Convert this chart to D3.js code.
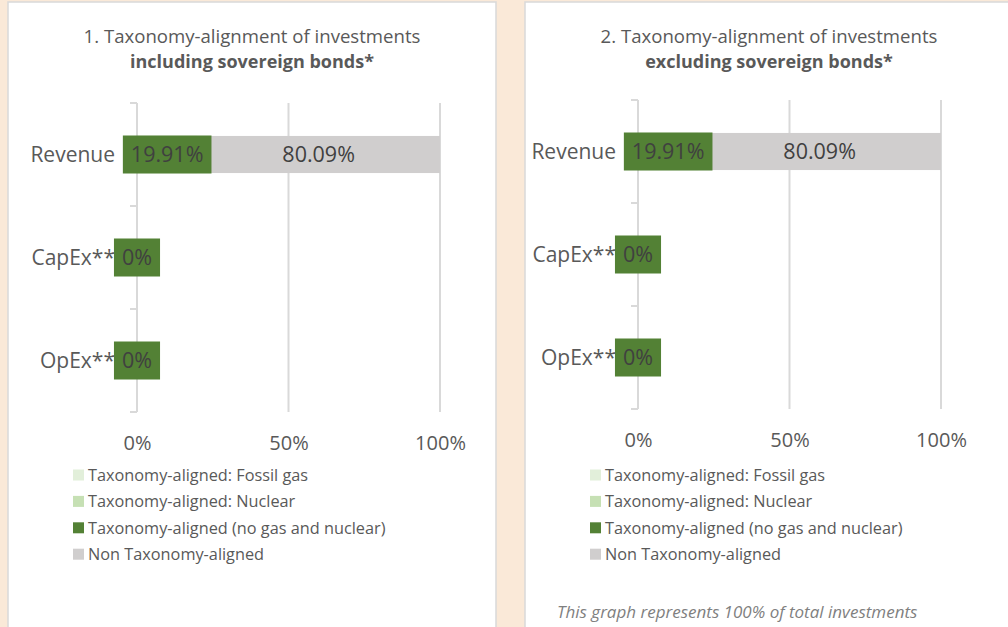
<!DOCTYPE html>
<html lang="en">
  <head>
    <meta charset="utf-8">
    <title>Taxonomy-alignment of investments</title>
    <script src="https://cdn.jsdelivr.net/npm/d3@7/dist/d3.min.js"></script>
    <style>
      body { margin: 0; background: #fae9d8; }
      text { font-family: 'Open Sans', sans-serif; }
    </style>
  </head>
  <body>
    <svg width="1008" height="627" id="mainsvg"></svg>
    <script>
      const svg = d3.select('#mainsvg');

      // data
      const categories = ['Revenue', 'CapEx**', 'OpEx**'];
      const seriesNames = [
        'Taxonomy-aligned: Fossil gas',
        'Taxonomy-aligned: Nuclear',
        'Taxonomy-aligned (no gas and nuclear)',
        'Non Taxonomy-aligned'
      ];
      const seriesColors = ['#e2efda', '#c6e0b4', '#538135', '#d0cece'];
      const tickValues = [0, 50, 100];

      // 1. including sovereign bonds
      const fossilGasIncl = [0, 0, 0];
      const nuclearIncl = [0, 0, 0];
      const alignedIncl = [19.91, 0, 0];
      const nonAlignedIncl = [80.09, null, null];
      // 2. excluding sovereign bonds
      const fossilGasExcl = [0, 0, 0];
      const nuclearExcl = [0, 0, 0];
      const alignedExcl = [19.91, 0, 0];
      const nonAlignedExcl = [80.09, null, null];

      const keys = ['gas', 'nuclear', 'aligned', 'non'];
      const makeRows = (gas, nuc, al, non) => categories.map((c, i) => ({
        cat: c, gas: gas[i], nuclear: nuc[i], aligned: al[i], non: non[i] == null ? 0 : non[i], hasNon: non[i] != null
      }));

      const panels = [
        {
          left: 8, top: 2, w: 488, x0: 137, x1: 440, yTop: 103, yBot: 412,
          t1: '1. Taxonomy-alignment of investments', t2: 'including sovereign bonds*',
          legendX: 73, footnote: null,
          rows: makeRows(fossilGasIncl, nuclearIncl, alignedIncl, nonAlignedIncl)
        },
        {
          left: 525, top: 2, w: 488, x0: 638, x1: 941, yTop: 100, yBot: 409,
          t1: '2. Taxonomy-alignment of investments', t2: 'excluding sovereign bonds*',
          legendX: 590, footnote: 'This graph represents 100% of total investments',
          rows: makeRows(fossilGasExcl, nuclearExcl, alignedExcl, nonAlignedExcl)
        }
      ];

      const textColor = '#595959';
      const gridColor = '#d9d9d9';

      panels.forEach(p => {
        const g = svg.append('g');
        g.append('rect')
          .attr('x', p.left).attr('y', p.top)
          .attr('width', p.w).attr('height', 700)
          .attr('fill', '#ffffff')
          .attr('stroke', '#d9d9d9').attr('stroke-width', 1.5);

        const cx = p.left + p.w / 2;
        g.append('text').text(p.t1)
          .attr('x', cx).attr('y', p.top + 41)
          .attr('text-anchor', 'middle')
          .attr('font-size', 18.6).attr('fill', textColor);
        g.append('text').text(p.t2)
          .attr('x', cx).attr('y', p.top + 66)
          .attr('text-anchor', 'middle')
          .attr('font-size', 18).attr('font-weight', 'bold').attr('fill', textColor);

        const xScale = d3.scaleLinear().domain([0, 100]).range([p.x0, p.x1]);
        const yScale = d3.scaleBand().domain(categories).range([p.yTop, p.yBot]).paddingInner(0.64).paddingOuter(0.32);
        const bandOuter = d3.scaleBand().domain(categories).range([p.yTop, p.yBot]);

        // gridlines
        g.append('g').selectAll('line').data(tickValues.slice(1)).join('line')
          .attr('x1', d => xScale(d)).attr('x2', d => xScale(d))
          .attr('y1', p.yTop).attr('y2', p.yBot)
          .attr('stroke', gridColor).attr('stroke-width', 2);

        // x tick labels
        const xAxis = d3.axisBottom(xScale).tickValues(tickValues).tickSize(0).tickPadding(0)
          .tickFormat(d => d + '%');
        const xg = g.append('g').attr('transform', `translate(0, ${p.yBot + 27})`).call(xAxis);
        xg.select('.domain').remove();
        xg.selectAll('text').attr('font-size', 20).attr('fill', textColor)
          .attr('font-family', "'Open Sans', sans-serif").attr('dy', '0.55em');

        // category axis with ticks on band boundaries
        const yLine = g.append('g');
        yLine.append('line')
          .attr('x1', p.x0).attr('x2', p.x0).attr('y1', p.yTop).attr('y2', p.yBot)
          .attr('stroke', gridColor).attr('stroke-width', 2);
        const bounds = categories.map(c => bandOuter(c)).concat([p.yBot]);
        yLine.selectAll('.tk').data(bounds).join('line')
          .attr('x1', p.x0 - 7).attr('x2', p.x0)
          .attr('y1', d => d).attr('y2', d => d)
          .attr('stroke', gridColor).attr('stroke-width', 2);

        g.selectAll('.cat').data(categories).join('text')
          .text(d => d)
          .attr('x', p.x0 - 22)
          .attr('y', d => yScale(d) + yScale.bandwidth() / 2)
          .attr('dy', '0.36em')
          .attr('text-anchor', 'end')
          .attr('font-size', 21).attr('fill', textColor);

        // stacked bars
        const stacked = d3.stack().keys(keys)(p.rows);
        stacked.forEach((layer, li) => {
          g.append('g').selectAll('rect').data(layer).join('rect')
            .attr('x', d => xScale(d[0]))
            .attr('y', d => yScale(d.data.cat))
            .attr('width', d => xScale(d[1]) - xScale(d[0]))
            .attr('height', yScale.bandwidth())
            .attr('fill', seriesColors[li]);
        });

        // data labels
        const alignedLayer = stacked[2];
        alignedLayer.forEach(d => {
          const mid = xScale((d[0] + d[1]) / 2);
          const cy = yScale(d.data.cat) + yScale.bandwidth() / 2;
          const lg = g.append('g');
          const box = lg.append('rect').attr('fill', seriesColors[2]);
          const t = lg.append('text').text(d.data.aligned + '%')
            .attr('x', mid).attr('y', cy).attr('dy', '0.36em')
            .attr('text-anchor', 'middle')
            .attr('font-size', 21.5).attr('fill', '#404040');
          const tw = t.node().getComputedTextLength();
          box.attr('x', mid - tw / 2 - 8).attr('width', tw + 16)
            .attr('y', cy - 19).attr('height', 38);
        });
        stacked[3].forEach(d => {
          if (!d.data.hasNon) return;
          const mid = xScale((d[0] + d[1]) / 2);
          const cy = yScale(d.data.cat) + yScale.bandwidth() / 2;
          g.append('text').text(d.data.non + '%')
            .attr('x', mid).attr('y', cy).attr('dy', '0.36em')
            .attr('text-anchor', 'middle')
            .attr('font-size', 21.5).attr('fill', '#404040');
        });

        // legend
        const legend = g.selectAll('.legend').data(seriesNames).join('g')
          .attr('transform', (d, i) => `translate(${p.legendX}, ${475 + i * 26.4})`);
        legend.append('rect')
          .attr('x', 0).attr('y', -5.5).attr('width', 11).attr('height', 11)
          .attr('fill', (d, i) => seriesColors[i]);
        legend.append('text').text(d => d)
          .attr('x', 15).attr('y', 0).attr('dy', '0.36em')
          .attr('font-size', 16.3).attr('fill', textColor);

        if (p.footnote) {
          g.append('text').text(p.footnote)
            .attr('x', p.left + 32).attr('y', 612).attr('dy', '0.36em')
            .attr('font-size', 17).attr('font-style', 'italic').attr('fill', '#7f7f7f');
        }
      });
    </script>
  </body>
</html>
